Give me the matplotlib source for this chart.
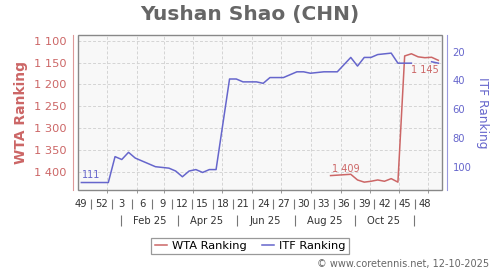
import datetime as dt
import numpy as np
import matplotlib
matplotlib.use('Agg')
import matplotlib.pyplot as plt
import matplotlib.dates as mdates
from matplotlib.patches import Rectangle

# ISO weeks (year, week) and rankings
itf_weeks = [(2024, 49), (2024, 50), (2024, 51), (2024, 52), (2025, 1), (2025, 2),
             (2025, 3), (2025, 4), (2025, 5), (2025, 8), (2025, 10), (2025, 11),
             (2025, 12), (2025, 13), (2025, 14), (2025, 15), (2025, 16), (2025, 17),
             (2025, 19), (2025, 20), (2025, 21), (2025, 23), (2025, 24), (2025, 25),
             (2025, 27), (2025, 29), (2025, 30), (2025, 31), (2025, 33), (2025, 35),
             (2025, 37), (2025, 38), (2025, 39), (2025, 40), (2025, 41), (2025, 43),
             (2025, 44), (2025, 46), (2025, 47), (2025, 49), (2025, 50)]
itf_rank = [111, 111, 111, 111, 111, 93,
            95, 90, 94, 100, 101, 103,
            107, 103, 102, 104, 102, 102,
            39, 39, 41, 41, 42, 38,
            38, 34, 34, 35, 34, 34,
            24, 30, 24, 24, 22, 21,
            28, 28, np.nan, 27, 28]

wta_weeks = [(2025, 34), (2025, 37), (2025, 38), (2025, 39), (2025, 40), (2025, 41),
             (2025, 42), (2025, 43), (2025, 44), (2025, 45), (2025, 46), (2025, 47),
             (2025, 48), (2025, 49), (2025, 50)]
wta_rank = [1409, 1406, 1419, 1424, 1422, 1419,
            1422, 1416, 1424, 1135, 1130, 1137,
            1139, 1138, 1145]

red = '#cc6666'
blue = '#6666cc'


def week_x(y, w):
    d = dt.datetime.fromisocalendar(y, w, 1) + dt.timedelta(days=3.5)
    return mdates.date2num(d)


itf_x = [week_x(y, w) for y, w in itf_weeks]
wta_x = [week_x(y, w) for y, w in wta_weeks]

fig = plt.figure(figsize=(5, 2.7), dpi=100)
ax = fig.add_axes([78 / 500, 1 - 190 / 270, (441.7 - 78) / 500, 155 / 270])
ax2 = ax.twinx()
ax.set_facecolor('#f8f8f8')

l1, = ax.plot(wta_x, wta_rank, color=red, lw=1.1, label='WTA Ranking')
l2, = ax2.plot(itf_x, itf_rank, color=blue, lw=1.1, label='ITF Ranking')

x0 = mdates.date2num(dt.datetime(2024, 12, 2))
x1 = mdates.date2num(dt.datetime(2025, 12, 15))
ax.set_xlim(x0, x1)
ax.set_ylim(1442, 1087)
ax2.set_ylim(116.2, 8.4)

# left axis
ax.set_yticks([1100, 1150, 1200, 1250, 1300, 1350, 1400])
ax.set_yticklabels([f"{v:,}".replace(',', ' ') for v in ax.get_yticks()])
ax.tick_params(axis='y', length=0, pad=4.5, labelsize=8.2, labelcolor=red)
for s in ['top', 'right', 'bottom']:
    ax.spines[s].set_visible(False)
ax.spines['left'].set_position(('outward', 3.6))
ax.spines['left'].set_color('#dd9999')

# right axis
ax2.set_yticks([20, 40, 60, 80, 100])
ax2.tick_params(axis='y', length=0, pad=4.3, labelsize=7.2, labelcolor=blue)
for s in ['top', 'left', 'bottom']:
    ax2.spines[s].set_visible(False)
ax2.spines['right'].set_position(('outward', 3.6))
ax2.spines['right'].set_color('#9999dd')

# week ticks
week_ticks = [x0 + 3.5 + 21 * k for k in range(18)]
week_labels = [str(mdates.num2date(t).isocalendar()[1]) for t in week_ticks]
ax.set_xticks(week_ticks)
ax.set_xticklabels(week_labels)
ax.tick_params(axis='x', which='major', length=0, pad=6.2, labelsize=7.2, labelcolor='#333333')

months = [mdates.date2num(dt.datetime(2025, m, 1)) for m in range(1, 13)]
ax.set_xticks(months, minor=True)
ax.tick_params(axis='x', which='minor', length=2.2, color='#888888', direction='out')

ax.grid(axis='y', which='major', color='#d4d4d4', ls=(0, (3, 2)), lw=0.7)
ax.grid(axis='x', which='minor', color='#d4d4d4', ls=(0, (3, 2)), lw=0.7)
ax.set_axisbelow(True)

# separators between week labels
sec1 = ax.secondary_xaxis((190 - 199) / 155)
sec1.set_xticks([])
sec1.set_xticks([(a + b) / 2 for a, b in zip(week_ticks[:-1], week_ticks[1:])], minor=True)
sec1.tick_params(which='minor', length=7.2, width=0.8, color='#777777', direction='out')
sec1.spines['bottom'].set_visible(False)

# month band row
sec2 = ax.secondary_xaxis((190 - 215) / 155)
band_labels = [mdates.date2num(dt.datetime(2025, m, 15)) for m in [2, 4, 6, 8, 10]]
band_seps = [mdates.date2num(dt.datetime(2025, m, 16)) for m in [1, 3, 5, 7, 9, 11]]
sec2.set_xticks(band_labels)
sec2.set_xticklabels([mdates.num2date(t).strftime('%b %y') for t in band_labels])
sec2.set_xticks(band_seps, minor=True)
sec2.tick_params(which='major', length=0, pad=0.8, labelsize=7.2, labelcolor='#333333')
sec2.tick_params(which='minor', length=7.7, width=0.8, color='#777777', direction='out')
sec2.spines['bottom'].set_visible(False)

# frame
ax2.add_patch(Rectangle((0, 0), 1, 1, transform=ax2.transAxes, fill=False,
                        edgecolor='#888888', lw=1.0, clip_on=False, zorder=10))

# point labels
ax2.annotate(f"{itf_rank[0]}", (itf_x[0], itf_rank[0]), xytext=(0.7, 2.9),
             textcoords='offset points', color=blue, fontsize=7, ha='left', va='baseline')
ax.annotate(f"{wta_rank[0]:,}".replace(',', ' '), (wta_x[0], wta_rank[0]), xytext=(0.7, 2.9),
            textcoords='offset points', color=red, fontsize=7, ha='left', va='baseline')
ax.annotate(f"{wta_rank[-1]:,}".replace(',', ' '), (wta_x[-1], wta_rank[-1]), xytext=(0.2, -9),
            textcoords='offset points', color=red, fontsize=7, ha='right', va='baseline')

fig.text(0.5, 1 - 20 / 270, 'Yushan Shao (CHN)', ha='center', va='baseline',
         fontsize=14.5, fontweight='bold', color='#666666')
fig.text(21 / 500, 1 - 112.5 / 270, 'WTA Ranking', rotation=90, ha='center', va='center',
         fontsize=10, fontweight='bold', color=red)
fig.text(482.5 / 500, 1 - 112.5 / 270, 'ITF Ranking', rotation=-90, ha='center', va='center',
         fontsize=8.7, color=blue)

leg = fig.legend(handles=[l1, l2], loc='center', bbox_to_anchor=(0.5, 1 - 246 / 270),
                 ncol=2, fontsize=8.2, handlelength=1.1, handletextpad=0.4,
                 columnspacing=1.3, borderpad=0.3, fancybox=False, edgecolor='#999999',
                 framealpha=1)
leg.get_frame().set_linewidth(0.9)

fig.text(489 / 500, 1 - 264 / 270, '\u00a9 www.coretennis.net, 12-10-2025', ha='right',
         va='center', fontsize=7, color='#666666')

fig.savefig('out.png', dpi=100)
